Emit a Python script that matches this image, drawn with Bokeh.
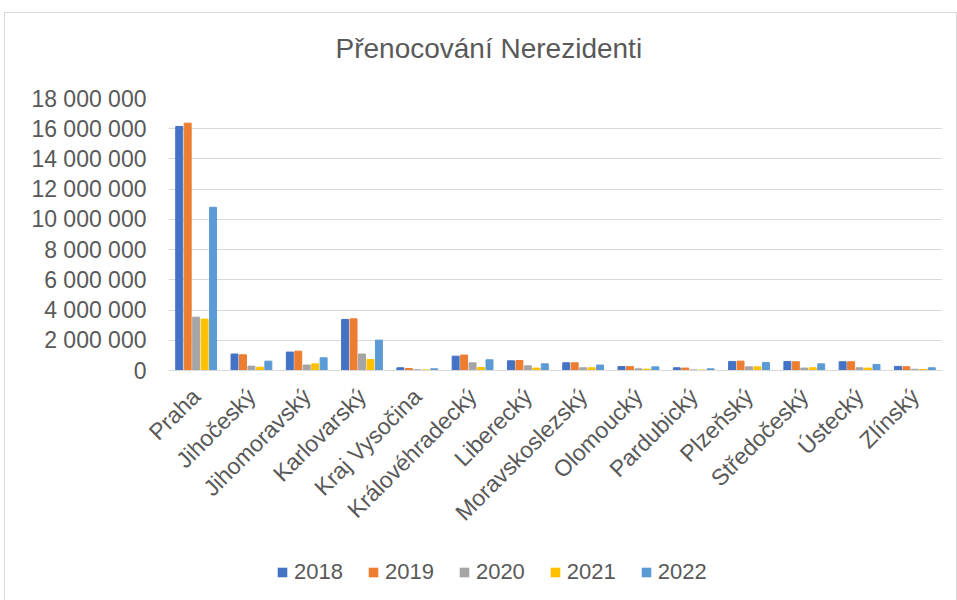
import math
from bokeh.plotting import figure
from bokeh.layouts import column
from bokeh.models import ColumnDataSource, FactorRange, Legend, LegendItem, FixedTicker, Title
from bokeh.transform import dodge
from bokeh.embed import file_html
from bokeh.resources import INLINE

regions = ["Praha", "Jihočeský", "Jihomoravský", "Karlovarský", "Kraj Vysočina",
           "Královéhradecký", "Liberecký", "Moravskoslezský", "Olomoucký", "Pardubický",
           "Plzeňský", "Středočeský", "Ústecký", "Zlínský"]
years = ["2018", "2019", "2020", "2021", "2022"]
v2018 = [16150000, 1090000, 1220000, 3380000, 180000, 950000, 640000, 510000, 260000, 180000, 600000, 600000, 580000, 270000]
v2019 = [16370000, 1040000, 1280000, 3420000, 130000, 1020000, 660000, 510000, 260000, 160000, 620000, 580000, 580000, 250000]
v2020 = [3530000, 290000, 360000, 1090000, 50000, 510000, 310000, 180000, 110000, 40000, 240000, 160000, 180000, 80000]
v2021 = [3400000, 220000, 440000, 730000, 40000, 200000, 160000, 180000, 90000, 30000, 240000, 180000, 160000, 70000]
v2022 = [10800000, 620000, 840000, 2010000, 110000, 710000, 440000, 360000, 240000, 110000, 530000, 440000, 400000, 180000]
colors = ["#4472C4", "#ED7D31", "#A5A5A5", "#FFC000", "#5B9BD5"]
y_ticks = [0, 2000000, 4000000, 6000000, 8000000, 10000000, 12000000, 14000000, 16000000, 18000000]
y_tick_labels = ["0", "2 000 000", "4 000 000", "6 000 000", "8 000 000", "10 000 000",
                 "12 000 000", "14 000 000", "16 000 000", "18 000 000"]

src = ColumnDataSource(dict(region=regions, y2018=v2018, y2019=v2019, y2020=v2020, y2021=v2021, y2022=v2022))

TXT = "#595959"
FONT = "Liberation Sans"
LEFT, RIGHT, FW = 163, 14, 774

# title strip
p0 = figure(frame_width=FW, frame_height=3, output_backend="svg", toolbar_location=None,
            x_axis_type=None, y_axis_type=None,
            min_border_left=LEFT, min_border_right=RIGHT, min_border_top=67, min_border_bottom=0)
p0.grid.grid_line_color = None
p0.outline_line_color = None
p0.title = Title(text="Přenocování Nerezidenti", align="left", text_font=FONT,
                 text_font_size="28px", text_font_style="normal", text_color=TXT,
                 offset=167, standoff=35)

# main chart
x_range = FactorRange(*regions, range_padding=0)
p = figure(x_range=x_range, y_range=(0, 18000000),
           frame_width=FW, frame_height=272, output_backend="svg", toolbar_location=None,
           min_border_left=LEFT, min_border_right=RIGHT, min_border_top=14, min_border_bottom=176)

offsets = [-0.306, -0.153, 0.0, 0.153, 0.306]
BW = 0.126
for yr, col, off in zip(years, colors, offsets):
    p.vbar(x=dodge("region", off, range=x_range), top="y" + yr, width=BW,
           source=src, fill_color=col, line_color=col)

p.xgrid.grid_line_color = None
p.ygrid.grid_line_color = "#d9d9d9"
p.ygrid.grid_line_width = 1
p.outline_line_color = None

p.yaxis.ticker = FixedTicker(ticks=y_ticks)
p.yaxis.major_label_overrides = {t: l for t, l in zip(y_ticks, y_tick_labels)}
p.yaxis.axis_line_color = None
p.yaxis.major_tick_line_color = None
p.yaxis.minor_tick_line_color = None
p.yaxis.major_label_text_font = FONT
p.yaxis.major_label_text_font_size = "23px"
p.yaxis.major_label_text_color = TXT
p.yaxis.major_label_standoff = 16

p.xaxis.axis_line_color = "#d9d9d9"
p.xaxis.major_tick_line_color = None
p.xaxis.minor_tick_line_color = None
p.xaxis.major_label_orientation = math.pi / 4
p.xaxis.major_label_text_font = FONT
p.xaxis.major_label_text_font_size = "23px"
p.xaxis.major_label_text_color = TXT
p.xaxis.major_label_standoff = 16

# legend strip (bars lie far outside the visible range; only their legend glyphs show)
p2 = figure(x_range=x_range, y_range=(1e9, 2e9), frame_width=FW, frame_height=54,
            output_backend="svg", toolbar_location=None, x_axis_type=None, y_axis_type=None,
            min_border_left=LEFT, min_border_right=RIGHT, min_border_top=0, min_border_bottom=0)
p2.grid.grid_line_color = None
p2.outline_line_color = None
items = []
for yr, col, off in zip(years, colors, offsets):
    r = p2.quad(left=dodge("region", off - BW / 2, range=x_range),
                right=dodge("region", off + BW / 2, range=x_range),
                bottom=0, top="y" + yr, source=src, fill_color=col, line_color=None)
    items.append(LegendItem(label=yr, renderers=[r]))
legend = Legend(items=items, orientation="horizontal", location=(108, 15),
                label_text_font=FONT, label_text_font_size="22px", label_text_color=TXT,
                glyph_width=12, glyph_height=12, label_standoff=6, spacing=24,
                border_line_color=None, background_fill_alpha=0, padding=2, margin=0)
p2.add_layout(legend, "center")

layout = column(p0, p, p2, spacing=0,
                styles={"border": "1px solid #d9d9d9", "margin-left": "4px", "margin-top": "12px"})

open("out.html", "w").write(file_html(layout, INLINE))
